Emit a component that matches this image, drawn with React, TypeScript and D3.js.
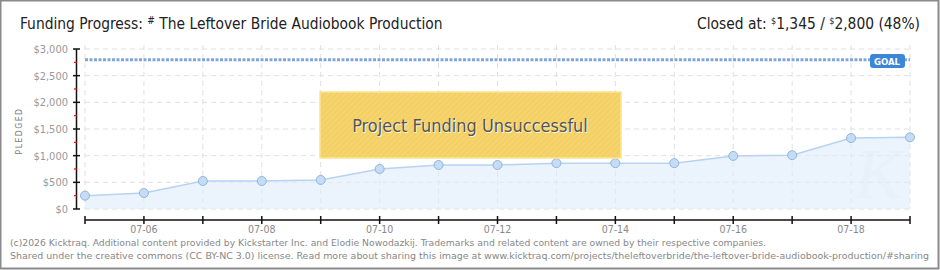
import React from "react";
import * as d3 from "d3";

const dates = ["07-05","07-06","07-07","07-08","07-09","07-10","07-11","07-12","07-13","07-14","07-15","07-16","07-17","07-18","07-19"];
const pledged = [250, 300, 525, 525, 545, 750, 825, 825, 860, 860, 860, 995, 1010, 1330, 1345];
const yTicks = [0, 500, 1000, 1500, 2000, 2500, 3000];
const yMinor = [250, 750, 1250, 1750, 2250, 2750];
const xLabels = ["07-06","07-08","07-10","07-12","07-14","07-16","07-18"];
const goal = 2800;

const W = 940, H = 270;
const FONT = "'Liberation Sans Narrow', 'DejaVu Sans Condensed', 'Roboto', sans-serif";
const SMALL = "'DejaVu Sans Condensed', 'Liberation Sans Narrow', sans-serif";

export default function App() {
  const x = d3.scalePoint<string>().domain(dates).range([85, 910]);
  const y = d3.scaleLinear().domain([0, 3000]).range([209, 49]);
  const pts = dates.map((d, i) => [x(d)!, y(pledged[i])] as [number, number]);
  const line = d3.line().curve(d3.curveLinear)(pts)!;
  const area = d3.area<[number, number]>().x(p => p[0]).y0(y(0)).y1(p => p[1])(pts)!;
  const fmt = (v: number) => "$" + d3.format(",")(v);
  const T = { fontFamily: FONT, fontSize: 15.4, fill: "#222" };

  return (
    <svg width={W} height={H} style={{ position: "absolute", left: 0, top: 0 }} xmlns="http://www.w3.org/2000/svg">
      <defs>
        <pattern id="hatch" width="4" height="4" patternUnits="userSpaceOnUse" patternTransform="rotate(45)">
          <rect width="4" height="4" fill="#f6d46c" />
          <line x1="0" y1="0" x2="0" y2="4" stroke="#efca5f" strokeWidth="1.5" />
        </pattern>
      </defs>
      <rect x={0.5} y={0.5} width={W - 2} height={H - 2} fill="#fff" stroke="#8a8a8a" strokeWidth={2} />

      {/* title */}
      <text x={20} y={29} {...T}>
        Funding Progress: <tspan fontSize={10} dy={-5}>#</tspan><tspan dy={5}> The Leftover Bride Audiobook Production</tspan>
      </text>

      <text x={920} y={29} textAnchor="end" {...T}>
        Closed at: <tspan fontSize={9} dy={-5}>$</tspan><tspan dy={5}>1,345 / </tspan><tspan fontSize={9} dy={-5}>$</tspan><tspan dy={5}>2,800 (48%)</tspan>
      </text>

      {/* grid */}
      {yTicks.map(t => (
        <line key={"gy" + t} x1={85} x2={910} y1={y(t)} y2={y(t)} stroke="#e0e0e0" strokeDasharray="5,4" />
      ))}
      {dates.map(d => (
        <line key={"gx" + d} x1={x(d)} x2={x(d)} y1={45} y2={209} stroke="#e0e0e0" strokeDasharray="5,4" />
      ))}

      {/* watermark */}
      <text x={878} y={198} textAnchor="middle" fontFamily="serif" fontStyle="italic" fontSize={72} fill="#e8edf3" opacity={0.3}>K</text>

      {/* area & line */}
      <path d={area} fill="#deebfa" opacity={0.6} />
      <path d={line} fill="none" stroke="#b7d3f1" strokeWidth={1.5} />
      {pts.map((p, i) => (
        <circle key={"p" + i} cx={p[0]} cy={p[1]} r={4.5} fill="#c4dcf6" stroke="#94b4d8" strokeWidth={1} />
      ))}

      {/* goal */}
      <line x1={85} x2={910} y1={y(goal)} y2={y(goal)} stroke="#7fa6d8" strokeWidth={3} strokeDasharray="3,1.5" />
      <rect x={870} y={54} width={35} height={14} rx={3} fill="#3b86d6" />
      <text x={887} y={65} textAnchor="middle" fontFamily={SMALL} fontSize={9.5} fontWeight="bold" fill="#fff">GOAL</text>

      {/* y axis */}
      <line x1={76.5} x2={76.5} y1={y(3000)} y2={y(0)} stroke="#111" strokeWidth={1.5} />
      {yTicks.map(t => (
        <g key={"yt" + t}>
          <line x1={73} x2={80} y1={y(t)} y2={y(t)} stroke="#111" strokeWidth={1.5} />
          <text x={68} y={y(t) + 4} textAnchor="end" fontFamily={SMALL} fontSize={11} fill="#999">{fmt(t)}</text>
        </g>
      ))}
      {yMinor.map(t => (
        <line key={"ym" + t} x1={74} x2={77} y1={y(t)} y2={y(t)} stroke="#e00" strokeWidth={1.2} />
      ))}
      <text transform={`translate(22,131) rotate(-90)`} textAnchor="middle" fontFamily={SMALL} fontSize={8.5} letterSpacing={1.5} fill="#777">PLEDGED</text>

      {/* x axis */}
      <line x1={85} x2={910} y1={220} y2={220} stroke="#111" strokeWidth={1.5} />
      {dates.map(d => (
        <line key={"xt" + d} x1={x(d)} x2={x(d)} y1={216} y2={224} stroke="#111" strokeWidth={1.5} />
      ))}
      {xLabels.map(d => (
        <text key={"xl" + d} x={x(d)} y={233} textAnchor="middle" fontFamily={SMALL} fontSize={10.5} fill="#888">{d}</text>
      ))}

      {/* unsuccessful box */}
      <rect x={320} y={92} width={301} height={66} fill="url(#hatch)" stroke="#fde48f" strokeWidth={1.5} />
      <text x={471} y={133} textAnchor="middle" fontFamily={FONT} fontSize={18} fill="#fff" opacity={0.8}>Project Funding Unsuccessful</text>
      <text x={470} y={132} textAnchor="middle" fontFamily={FONT} fontSize={18} fill="#555">Project Funding Unsuccessful</text>

      {/* footer */}
      <text x={10} y={246} fontFamily={SMALL} fontSize={9} fill="#888" textLength={756} lengthAdjust="spacingAndGlyphs">
        (c)2026 Kicktraq. Additional content provided by Kickstarter Inc. and Elodie Nowodazkij. Trademarks and related content are owned by their respective companies.
      </text>
      <text x={10} y={259} fontFamily={SMALL} fontSize={9} fill="#888" textLength={919} lengthAdjust="spacingAndGlyphs">
        Shared under the creative commons (CC BY-NC 3.0) license. Read more about sharing this image at www.kicktraq.com/projects/theleftoverbride/the-leftover-bride-audiobook-production/#sharing
      </text>
    </svg>
  );
}
